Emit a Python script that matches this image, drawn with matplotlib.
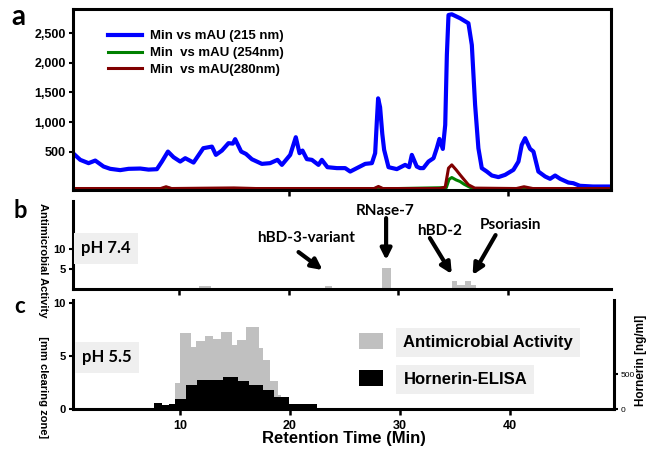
import matplotlib
matplotlib.use('Agg')
import matplotlib.pyplot as plt
from matplotlib.patches import Patch
from matplotlib.ticker import FuncFormatter

plt.rcParams['font.family'] = ['Liberation Sans', 'DejaVu Sans']
plt.rcParams['font.weight'] = 'bold'
plt.rcParams['axes.labelweight'] = 'bold'
plt.rcParams['axes.linewidth'] = 2.2

# --- panel a: RP-HPLC chromatogram (min vs mAU) ---
t_215 = [0.3, 0.96, 1.72, 2.33, 3.09, 3.7, 4.61, 5.37, 6.44, 7.2, 7.96, 8.42, 8.97, 9.48,
         10.09, 10.55, 11.31, 12.2, 12.99, 13.35, 13.9, 14.5, 14.9, 15.11, 15.66, 16.1,
         16.64, 17.55, 18.3, 18.98, 19.38, 20.14, 20.65, 20.99, 21.26, 21.66, 22.12, 22.72,
         23.03, 23.54, 24.4, 25.16, 25.62, 26.23, 26.99, 27.6, 27.9, 28.05, 28.17, 28.35,
         28.55, 28.72, 29.12, 29.88, 30.64, 31.0, 31.25, 31.7, 32.0, 32.3, 32.77, 33.23,
         33.53, 33.77, 34.08, 34.3, 34.45, 34.6, 34.9, 35.66, 36.42, 36.73, 37.03, 37.33,
         37.64, 38.1, 38.56, 39.16, 39.77, 40.53, 40.99, 41.29, 41.6, 42.05, 42.36, 42.81,
         43.43, 43.88, 44.34, 44.8, 45.55, 46.0, 46.6, 47.8, 49.2]
mau_215 = [473, 360, 304, 348, 247, 208, 186, 208, 213, 195, 202, 331, 500, 405,
           331, 388, 314, 557, 584, 444, 517, 642, 635, 710, 500, 460,
           370, 292, 304, 360, 275, 444, 743, 473, 517, 372, 360, 275,
           360, 236, 220, 220, 162, 220, 292, 304, 473, 1000, 1400, 1250,
           800, 529, 236, 203, 275, 236, 444, 247, 220, 220, 331, 388,
           557, 714, 545, 951, 2134, 2810, 2822, 2755, 2670, 2303, 1289, 557,
           220, 162, 95, 68, 106, 191, 331, 613, 727, 546, 500, 162,
           78, 39, 95, 39, -24, -35, -79, -91, -91]
t_254 = [0.3, 8.4, 8.8, 9.3, 27.8, 28.2, 28.6, 34.4, 34.65, 34.9, 35.3, 35.66, 36.0,
         36.42, 36.8, 41.0, 41.5, 42.0, 49.2]
mau_254 = [-130, -130, -105, -130, -130, -105, -130, -110, 30, 61, 20, -7, -50,
           -91, -125, -130, -110, -130, -130]
t_280 = [0.3, 8.3, 8.8, 9.3, 12.0, 15.0, 17.0, 27.8, 28.2, 28.6, 33.8, 34.3, 34.6, 34.9,
         35.3, 35.66, 36.0, 36.42, 37.0, 40.8, 41.5, 42.3, 49.2]
mau_280 = [-125, -125, -95, -125, -120, -115, -125, -125, -90, -125, -125, -100, 220, 275,
           190, 106, 30, -62, -118, -125, -95, -125, -125]

# --- panel b: antimicrobial activity at pH 7.4 (fractions) ---
frac74_start = [11.8, 23.3, 28.57, 34.96, 35.41, 36.12, 36.64]
frac74_end = [12.9, 24.0, 29.33, 35.41, 36.12, 36.64, 37.12]
activity74 = [0.8, 0.8, 5.2, 2.1, 1.0, 2.1, 1.0]

# --- panel c: antimicrobial activity at pH 5.5 and hornerin ELISA ---
edges55 = [9.54, 10.0, 11.0, 11.46, 12.28, 12.98, 13.74, 14.74, 15.2, 16.0, 17.18,
           17.58, 18.2, 18.9, 19.2]
activity55 = [2.45, 7.17, 5.85, 6.4, 6.9, 6.6, 7.26, 6.04, 6.5, 7.74, 5.75, 4.62, 2.64, 1.32]
edges_elisa = [7.63, 8.36, 9.0, 9.54, 10.55, 11.55, 13.93, 15.3, 16.3, 17.58, 18.58,
               19.92, 22.48]
hornerin = [86, 57, 71, 143, 343, 414, 457, 400, 343, 271, 171, 71]

xticks = [10, 20, 30, 40]

fig = plt.figure(figsize=(6.48, 4.54), dpi=100)
fig.patch.set_facecolor('white')

# panel a
ax1 = fig.add_axes([0.1127, 0.5815, 0.8303, 0.3985])
ax1.plot(t_215, mau_215, color='#0000ff', lw=3, label='Min vs mAU (215 nm)', solid_joinstyle='round')
ax1.plot(t_254, mau_254, color='#008000', lw=2.2, label='Min  vs mAU (254nm)')
ax1.plot(t_280, mau_280, color='#800000', lw=2.2, label='Min  vs mAU(280nm)')
ax1.set_xlim(0.3, 49.45)
ax1.set_ylim(-150, 2910)
ax1.set_yticks([500, 1000, 1500, 2000, 2500])
ax1.yaxis.set_major_formatter(FuncFormatter(lambda v, p: f'{int(v):,}'))
ax1.set_xticks([20, 40])
ax1.set_xticklabels([])
ax1.tick_params(axis='y', labelsize=9, length=3, width=1.5, pad=2)
ax1.tick_params(axis='x', length=4, width=1.8)
ax1.legend(loc='upper left', bbox_to_anchor=(0.065, 0.884), frameon=False, fontsize=9.5,
           handlelength=2.6, handletextpad=0.6, labelspacing=0.35, borderpad=0, borderaxespad=0)

# panel b
ax2 = fig.add_axes([0.1127, 0.3634, 0.8303, 0.1936])
ax2.bar(frac74_start, activity74,
        width=[e - s for s, e in zip(frac74_start, frac74_end)],
        align='edge', color='#c0c0c0', lw=0)
ax2.set_xlim(0.3, 49.45)
ax2.set_ylim(0, 22)
ax2.set_yticks([5, 10])
ax2.set_xticks(xticks)
ax2.set_xticklabels([])
ax2.spines['top'].set_visible(False)
ax2.spines['right'].set_visible(False)
ax2.tick_params(axis='y', labelsize=8, length=3, width=1.5, pad=2)
ax2.tick_params(axis='x', length=4, width=1.8)
ax2.text(0.061, 0.466, 'pH 7.4', transform=ax2.transAxes, ha='center', va='center',
         fontsize=12, family='Lato', weight='bold',
         bbox=dict(boxstyle='square,pad=0.45', facecolor='#efefef', edgecolor='none'))

arrow = dict(arrowstyle='-|>', lw=3, mutation_scale=16, color='black', shrinkA=0, shrinkB=0)
labels74 = ['hBD-3-variant', 'RNase-7', 'hBD-2', 'Psoriasin']
label_xy = [(21.6, 12.75), (28.8, 19.5), (33.8, 14.5), (40.3, 16.0)]
arrow_from = [(20.9, 9.25), (28.9, 17.75), (32.9, 12.75), (38.9, 13.5)]
arrow_to = [(23.1, 4.75), (28.9, 7.25), (34.9, 3.75), (36.8, 3.5)]
for lab, xy, a0, a1 in zip(labels74, label_xy, arrow_from, arrow_to):
    ax2.text(xy[0], xy[1], lab, ha='center', va='center', fontsize=11, family='Lato', weight='bold')
    ax2.annotate('', xy=a1, xytext=a0, arrowprops=arrow)

# panel c
ax3 = fig.add_axes([0.1127, 0.0991, 0.8349, 0.2399])
ax3.stairs(activity55, edges55, fill=True, color='#c0c0c0', lw=0)
ax3.set_xlim(0.3, 49.45)
ax3.set_ylim(0, 10.28)
ax3.set_yticks([0, 5, 10])
ax3.set_xticks(xticks)
ax3.spines['top'].set_visible(False)
ax3.spines['right'].set_visible(False)
ax3.tick_params(axis='y', labelsize=8, length=3, width=1.5, pad=2)
ax3.tick_params(axis='x', labelsize=9, length=4, width=1.8, pad=4)
plt.setp(ax3.get_xticklabels(), fontweight='bold')
plt.setp(ax3.get_yticklabels(), fontweight='bold')
ax3.text(0.063, 0.477, 'pH 5.5', transform=ax3.transAxes, ha='center', va='center',
         fontsize=12, family='Lato', weight='bold',
         bbox=dict(boxstyle='square,pad=0.45', facecolor='#efefef', edgecolor='none'))
ax3.set_xlabel('Retention Time (Min)', fontsize=12, fontweight='bold', labelpad=-1)

ax3r = ax3.twinx()
ax3r.stairs(hornerin, edges_elisa, fill=True, color='black', lw=0)
ax3r.set_ylim(0, 1557)
ax3r.set_yticks([0, 500])
ax3r.spines['top'].set_visible(False)
ax3r.spines['left'].set_visible(False)
ax3r.spines['bottom'].set_visible(False)
ax3r.tick_params(axis='y', labelsize=6, length=3, width=1.5, pad=2)
for t in ax3r.get_yticklabels():
    t.set_fontweight('normal')

leg = ax3r.legend(handles=[Patch(facecolor='#c0c0c0'), Patch(facecolor='black')],
                  labels=['Antimicrobial Activity', 'Hornerin-ELISA'],
                  loc='upper left', bbox_to_anchor=(0.529, 0.70), frameon=False,
                  prop=dict(weight='bold', size=12), handlelength=1.45, handleheight=1.15,
                  handletextpad=1.2, labelspacing=1.2, borderpad=0, borderaxespad=0)
for t in leg.get_texts():
    t.set_bbox(dict(facecolor='#efefef', edgecolor='none', pad=5))

# shared labels
fig.text(0.066, 0.295, 'Antimicrobial Activity      [mm clearing zone]', rotation=-90,
         ha='center', va='center', fontsize=8)
fig.text(0.989, 0.207, 'Hornerin [ng/ml]', rotation=90, ha='center', va='center', fontsize=8.5)
fig.text(0.028, 0.963, 'a', ha='center', va='center', fontsize=20, family='Lato', weight='bold')
fig.text(0.031, 0.537, 'b', ha='center', va='center', fontsize=17, family='Lato', weight='bold')
fig.text(0.031, 0.324, 'c', ha='center', va='center', fontsize=16, family='Lato', weight='bold')

fig.savefig('out.png', dpi=100)
